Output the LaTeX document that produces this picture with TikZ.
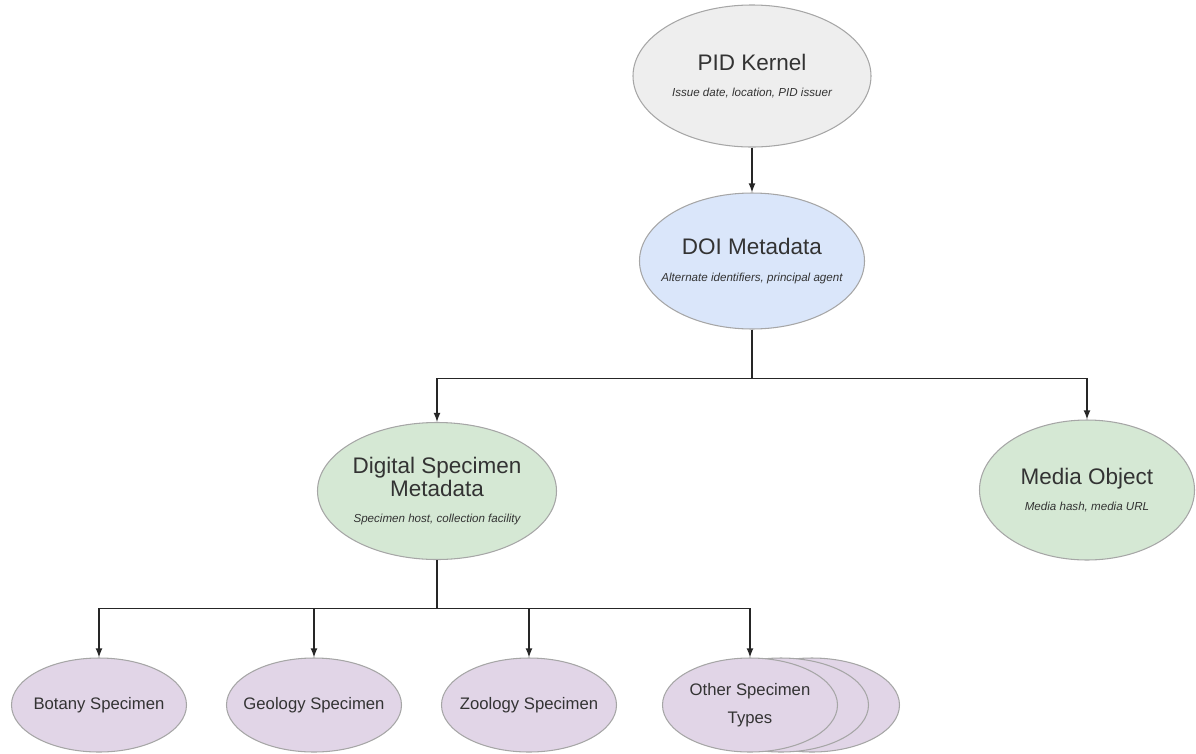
\documentclass[tikz,border=0pt]{standalone}
\usepackage{fontspec}
\setmainfont{Liberation Sans}
\usetikzlibrary{shapes.geometric}

\definecolor{kernelgray}{HTML}{EEEEEE}
\definecolor{doiblue}{HTML}{DAE6FA}
\definecolor{dsgreen}{HTML}{D5E8D4}
\definecolor{typepurple}{HTML}{E1D5E7}
\definecolor{rimgray}{HTML}{A6A6A6}
\definecolor{inkgray}{HTML}{333333}

\newcommand{\boxtitle}[1]{{\fontsize{12.8}{15}\selectfont #1}}
\newcommand{\boxnote}[1]{{\fontsize{6.6}{8}\selectfont\itshape #1}}

\begin{document}
\begin{tikzpicture}[>=latex,
    blob/.style={ellipse, draw=rimgray, line width=0.6pt, inner xsep=-2cm,
      inner ysep=0pt, text=inkgray, align=center},
    leaf/.style={blob, fill=typepurple, minimum width=3.5cm,
      minimum height=1.88cm, font=\fontsize{9.5}{12}\selectfont},
    link/.style={->, line width=0.8pt, black!85}]
  \useasboundingbox (0,0) rectangle (23.92,-15.06);
  % Kernel y metadatos DOI
  \node[blob, fill=kernelgray, minimum width=4.76cm, minimum height=2.84cm]
    (pid) at (15.04,-1.52)
    {\boxtitle{PID Kernel}\\[3pt]\boxnote{Issue date, location, PID issuer}};
  \node[blob, fill=doiblue, minimum width=4.5cm, minimum height=2.72cm]
    (doi) at (15.04,-5.22)
    {\boxtitle{DOI Metadata}\\[3pt]\boxnote{Alternate identifiers, principal agent}};
  % Segundo nivel
  \node[blob, fill=dsgreen, minimum width=4.78cm, minimum height=2.74cm]
    (dsm) at (8.74,-9.82)
    {\boxtitle{Digital Specimen}\\[1pt]\boxtitle{Metadata}\\[3pt]\boxnote{Specimen host, collection facility}};
  \node[blob, fill=dsgreen, minimum width=4.3cm, minimum height=2.8cm]
    (media) at (21.74,-9.8)
    {\boxtitle{Media Object}\\[3pt]\boxnote{Media hash, media URL}};
  % Tipos de especimen
  \node[leaf] (botany) at (1.98,-14.1) {Botany Specimen};
  \node[leaf] (geology) at (6.28,-14.1) {Geology Specimen};
  \node[leaf] (zoology) at (10.58,-14.1) {Zoology Specimen};
  \node[leaf] (other2) at (16.24,-14.1) {};
  \node[leaf] (other1) at (15.62,-14.1) {};
  \node[leaf] (other) at (15.0,-14.1) {Other Specimen\\[4pt]Types};
  % Conexiones
  \draw[link] (pid) -- (doi);
  \draw[link] (doi.south) -- ++(0,-0.98) -| (dsm.north);
  \draw[link] (doi.south) -- ++(0,-0.98) -| (media.north);
  \foreach \kind in {botany,geology,zoology,other}
    \draw[link] (dsm.south) -- ++(0,-0.97) -| (\kind.north);
\end{tikzpicture}
\end{document}
